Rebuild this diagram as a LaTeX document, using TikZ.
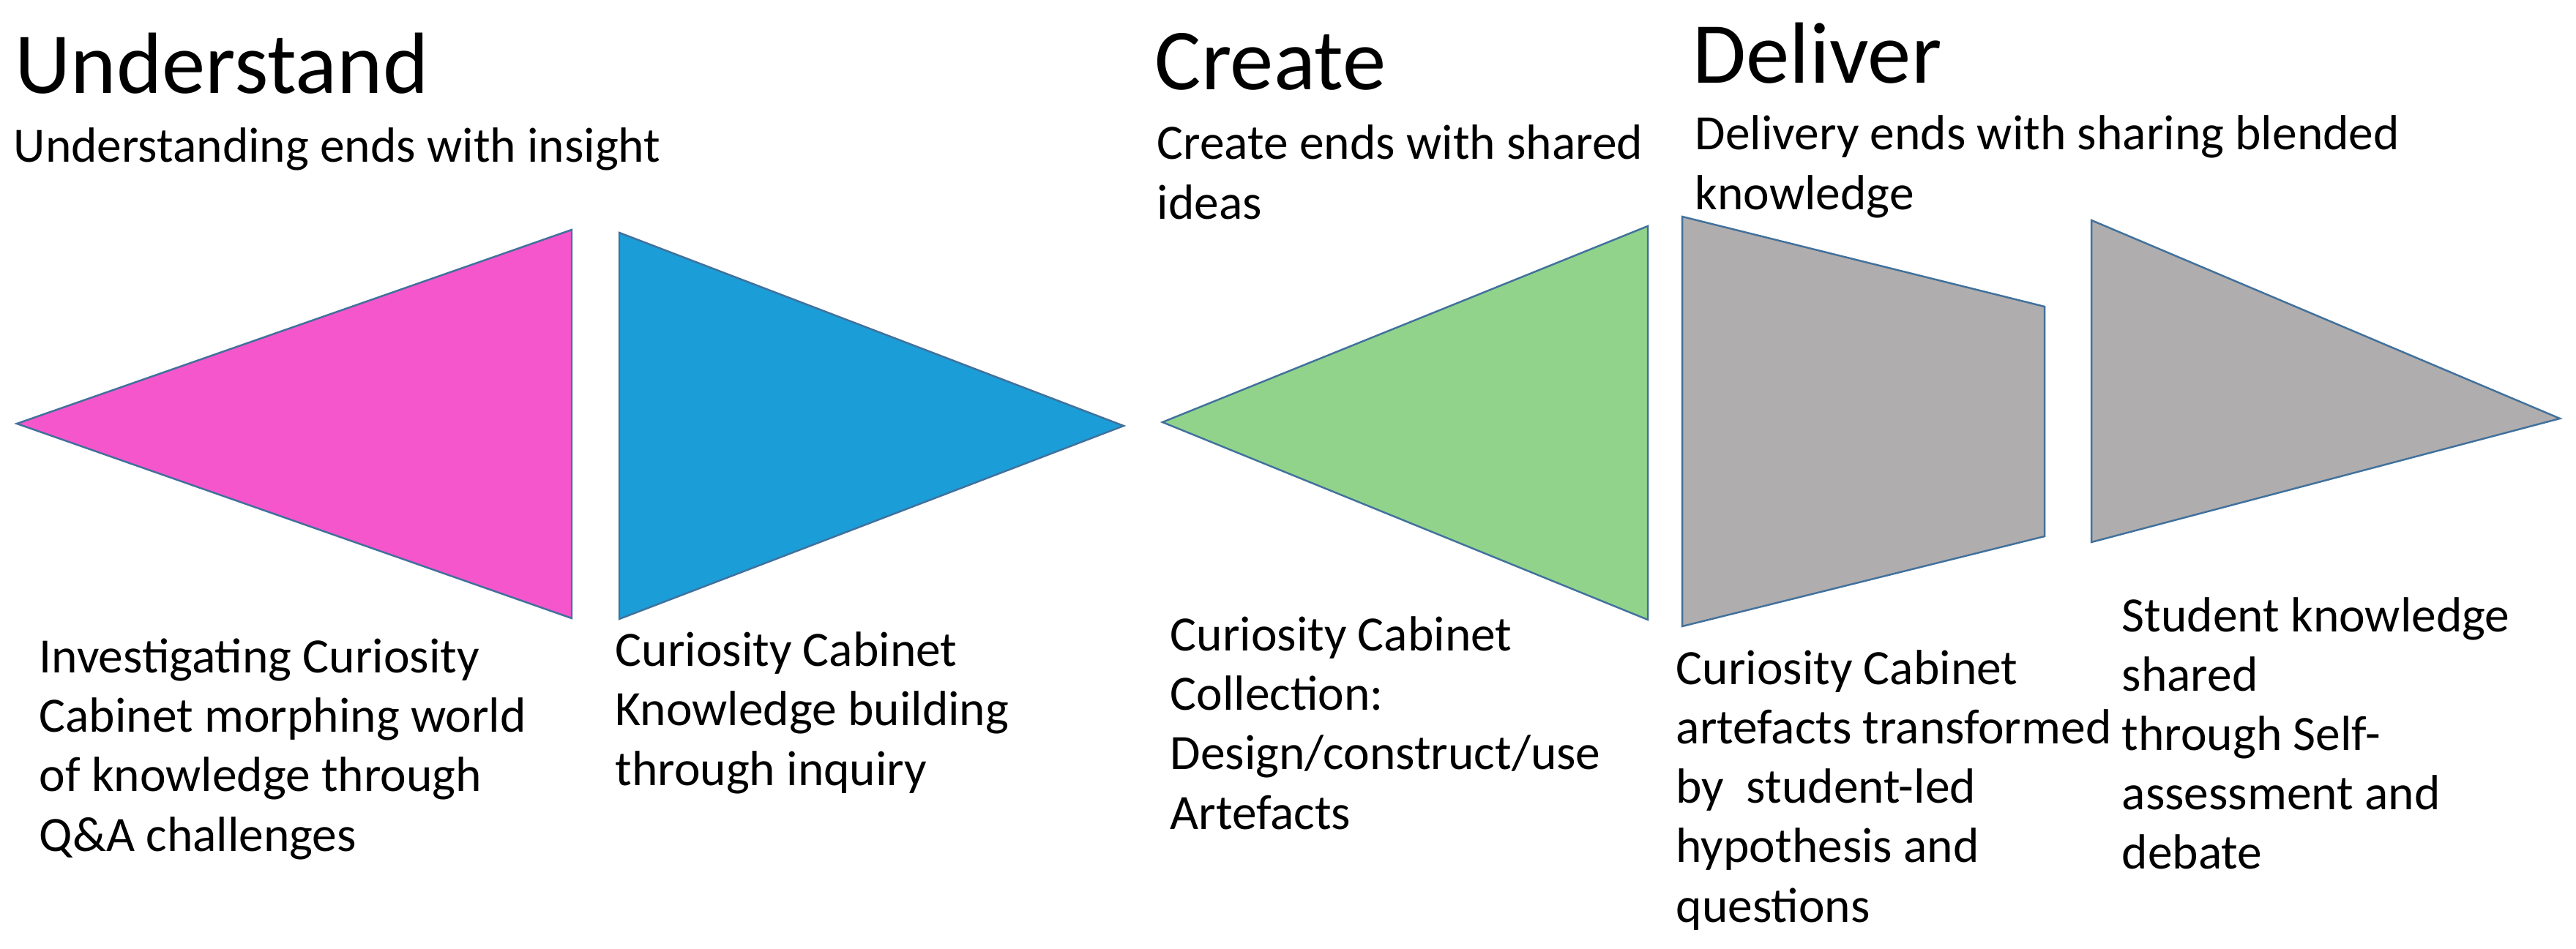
\documentclass[tikz,border=0pt]{standalone}
\usepackage{fontspec}
\setmainfont{Carlito}

\definecolor{edgeblue}{RGB}{65,113,156}
\definecolor{fillpink}{RGB}{245,86,203}
\definecolor{fillblue}{RGB}{27,157,216}
\definecolor{fillgreen}{RGB}{146,211,139}
\definecolor{fillgray}{RGB}{176,173,174}

\tikzset{
  stage/.style={draw=edgeblue, line width=0.7pt, line join=miter},
  heading/.style={anchor=base west, inner sep=0pt,
    font=\fontsize{33.8}{40}\selectfont},
  lead/.style={anchor=base west, inner sep=0pt, align=left,
    font=\fontsize{19.2}{23.6}\selectfont},
  body/.style={anchor=base west, inner sep=0pt, align=left,
    font=\fontsize{19.2}{23.1}\selectfont},
}

\begin{document}
\begin{tikzpicture}

\useasboundingbox (0,0) rectangle (35.19,12.96);

% Understand
\fill[fillpink, stage] (0.23,7.17) -- (7.81,9.82) -- (7.81,4.51) -- cycle;
\fill[fillblue, stage] (8.46,9.78) -- (15.35,7.14) -- (8.46,4.50) -- cycle;

% Create
\fill[fillgreen, stage] (15.88,7.19) -- (22.51,9.87) -- (22.51,4.49) -- cycle;

% Deliver
\fill[fillgray, stage] (22.98,10.00) -- (27.93,8.77) -- (27.93,5.63)
  -- (22.98,4.40) -- cycle;
\fill[fillgray, stage] (28.57,9.95) -- (34.97,7.24) -- (28.57,5.55) -- cycle;

% Headings (multi-line nodes sit on their last baseline)
\node[heading] (understand) at (0.20,11.68) {Understand};
\node[lead] (understandnote) at (0.18,10.74)
{Understanding ends with insight};

\node[heading] (create) at (15.77,11.73) {Create};
\node[lead] (createnote) at (15.80,9.96)
{Create ends with shared\\ideas};

\node[heading] (deliver) at (23.12,11.82) {Deliver};
\node[lead] (delivernote) at (23.15,10.09)
{Delivery ends with sharing blended\\knowledge};

% Descriptions
\node[body] (investigate) at (0.53,1.33)
{Investigating Curiosity\\Cabinet morphing world\\of knowledge through\\Q\&A challenges};

\node[body] (inquiry) at (8.40,2.23)
{Curiosity Cabinet\\Knowledge building\\through inquiry};

\node[body] (collection) at (15.98,1.63)
{Curiosity Cabinet\\Collection:\\Design/construct/use\\Artefacts};

\node[body] (transform) at (22.89,0.36)
{Curiosity Cabinet\\artefacts transformed\\by\ \ student-led\\hypothesis and\\questions};

\node[body] (shared) at (28.98,1.08)
{Student knowledge\\shared\\through Self-\\assessment and\\debate};

\end{tikzpicture}
\end{document}
